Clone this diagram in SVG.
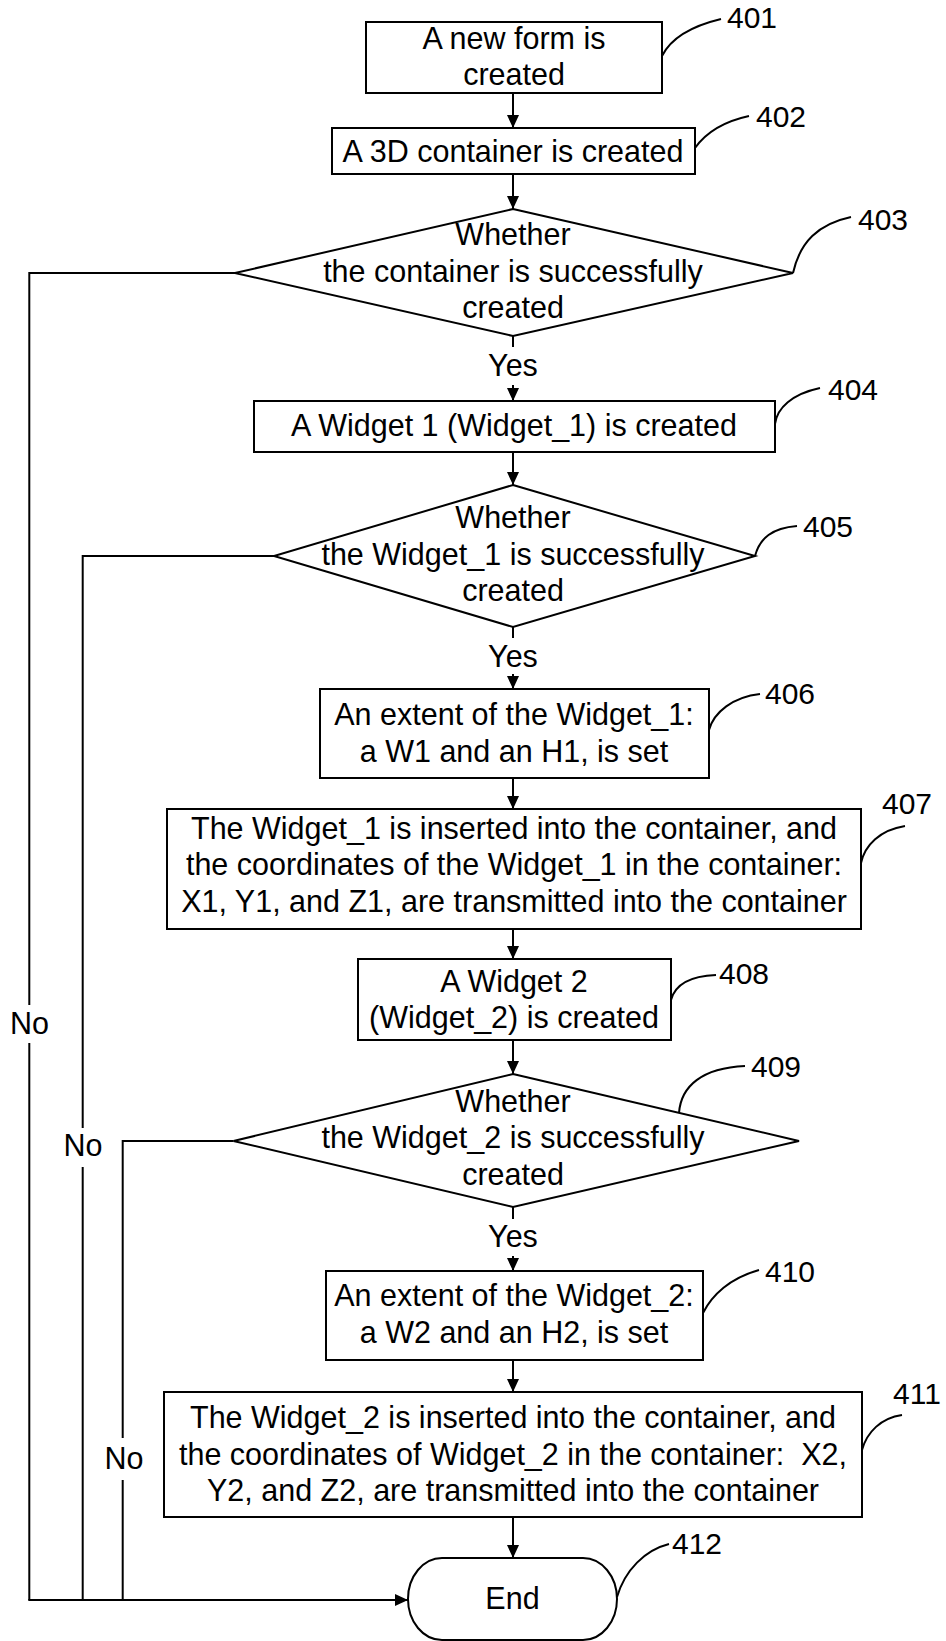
<svg xmlns="http://www.w3.org/2000/svg" width="946" height="1641" viewBox="0 0 946 1641">
<style>
.shape{fill:#fff;stroke:#000;stroke-width:2}
.t{font-family:"Liberation Sans",Arial,sans-serif;font-size:30.5px;text-anchor:middle;fill:#000}
.ref{font-family:"Liberation Sans",Arial,sans-serif;font-size:30px;fill:#000}
.lead{fill:none;stroke:#000;stroke-width:2}
.conn{fill:none;stroke:#000;stroke-width:2}
</style>
<defs>
<marker id="ah" viewBox="0 0 13 12" refX="13" refY="6" markerWidth="13" markerHeight="12" markerUnits="userSpaceOnUse" orient="auto">
<path d="M0,0 L13,6 L0,12 z" fill="#000"/>
</marker>
</defs>
<rect width="946" height="1641" fill="#fff"/>
<g id="connectors">
<line class="conn" x1="513" y1="93" x2="513" y2="128" marker-end="url(#ah)"/>
<line class="conn" x1="513" y1="174" x2="513" y2="209" marker-end="url(#ah)"/>
<line class="conn" x1="513" y1="336" x2="513" y2="347"/>
<line class="conn" x1="513" y1="385" x2="513" y2="401" marker-end="url(#ah)"/>
<text class="t" x="513" y="376">Yes</text>
<line class="conn" x1="513" y1="452" x2="513" y2="485" marker-end="url(#ah)"/>
<line class="conn" x1="513" y1="627" x2="513" y2="638"/>
<line class="conn" x1="513" y1="674" x2="513" y2="689" marker-end="url(#ah)"/>
<text class="t" x="513" y="666.5">Yes</text>
<line class="conn" x1="513" y1="778" x2="513" y2="809" marker-end="url(#ah)"/>
<line class="conn" x1="513" y1="929" x2="513" y2="959" marker-end="url(#ah)"/>
<line class="conn" x1="513" y1="1040" x2="513" y2="1074" marker-end="url(#ah)"/>
<line class="conn" x1="513" y1="1207" x2="513" y2="1219"/>
<line class="conn" x1="513" y1="1256" x2="513" y2="1271" marker-end="url(#ah)"/>
<text class="t" x="513" y="1246.5">Yes</text>
<line class="conn" x1="513" y1="1360" x2="513" y2="1392" marker-end="url(#ah)"/>
<line class="conn" x1="513" y1="1517" x2="513" y2="1558" marker-end="url(#ah)"/>
<path class="conn" d="M235,273 H29.3 V1005 M29.3,1043 V1600"/>
<path class="conn" d="M274,556 H82.7 V1128 M82.7,1167 V1600"/>
<path class="conn" d="M233.5,1141 H122.7 V1438 M122.7,1480 V1600"/>
<path class="conn" d="M28.3,1600 H408" marker-end="url(#ah)"/>
<text class="t" x="29.5" y="1033.5">No</text>
<text class="t" x="83" y="1156">No</text>
<text class="t" x="124" y="1469">No</text>
</g>
<g id="n401">
<rect class="shape" x="366" y="22" width="296" height="71"/>
<text class="t" x="514" y="49">A new form is</text>
<text class="t" x="514" y="85">created</text>
<path class="lead" d="M662,56 Q675,30 721,19"/>
<text class="ref" x="727" y="27.7">401</text>
</g>
<g id="n402">
<rect class="shape" x="332" y="128" width="363" height="46"/>
<text class="t" x="513" y="161.5">A 3D container is created</text>
<path class="lead" d="M695,148 Q712,124 749,116"/>
<text class="ref" x="756" y="126.5">402</text>
</g>
<g id="n403">
<polygon class="shape" points="513,209 793,273 513,336 235,273"/>
<text class="t" x="513" y="245">Whether</text>
<text class="t" x="513" y="281.5">the container is successfully</text>
<text class="t" x="513" y="318">created</text>
<path class="lead" d="M793,273 C800,242 818,224 851,217"/>
<text class="ref" x="858" y="229.5">403</text>
</g>
<g id="n404">
<rect class="shape" x="254" y="401" width="521" height="51"/>
<text class="t" x="514" y="436">A Widget 1 (Widget_1) is created</text>
<path class="lead" d="M775,424 C777,408 792,394 820,388"/>
<text class="ref" x="828" y="400">404</text>
</g>
<g id="n405">
<polygon class="shape" points="513,485 755,556 513,627 274,556"/>
<text class="t" x="513" y="528">Whether</text>
<text class="t" x="513" y="564.5">the Widget_1 is successfully</text>
<text class="t" x="513" y="601">created</text>
<path class="lead" d="M755,556 C760,538 772,528 797,526"/>
<text class="ref" x="803" y="536.5">405</text>
</g>
<g id="n406">
<rect class="shape" x="320" y="689" width="389" height="89"/>
<text class="t" x="514" y="725">An extent of the Widget_1:</text>
<text class="t" x="514" y="761.5">a W1 and an H1, is set</text>
<path class="lead" d="M709,730 C714,712 733,697 760,694"/>
<text class="ref" x="765" y="703.5">406</text>
</g>
<g id="n407">
<rect class="shape" x="167" y="809" width="694" height="120"/>
<text class="t" x="514" y="838.5">The Widget_1 is inserted into the container, and</text>
<text class="t" x="514" y="875">the coordinates of the Widget_1 in the container:</text>
<text class="t" x="514" y="911.5">X1, Y1, and Z1, are transmitted into the container</text>
<path class="lead" d="M861,863 C865,845 880,830 905,826"/>
<text class="ref" x="882" y="813.5">407</text>
</g>
<g id="n408">
<rect class="shape" x="358" y="959" width="313" height="81"/>
<text class="t" x="514" y="992">A Widget 2</text>
<text class="t" x="514" y="1028">(Widget_2) is created</text>
<path class="lead" d="M671,1000 C675,985 690,976 716,975"/>
<text class="ref" x="719" y="983.5">408</text>
</g>
<g id="n409">
<polygon class="shape" points="513,1074 799,1141 513,1207 233.5,1141"/>
<text class="t" x="513" y="1111.5">Whether</text>
<text class="t" x="513" y="1148">the Widget_2 is successfully</text>
<text class="t" x="513" y="1184.5">created</text>
<path class="lead" d="M679,1113 C681,1086 702,1068 745,1066"/>
<text class="ref" x="751" y="1076.5">409</text>
</g>
<g id="n410">
<rect class="shape" x="326" y="1271" width="377" height="89"/>
<text class="t" x="514" y="1306">An extent of the Widget_2:</text>
<text class="t" x="514" y="1342.5">a W2 and an H2, is set</text>
<path class="lead" d="M703,1313 C712,1295 730,1278 759,1270"/>
<text class="ref" x="765" y="1281.5">410</text>
</g>
<g id="n411">
<rect class="shape" x="164" y="1392" width="698" height="125"/>
<text class="t" x="513" y="1428">The Widget_2 is inserted into the container, and</text>
<text class="t" x="513" y="1464.5" xml:space="preserve">the coordinates of Widget_2 in the container:  X2,</text>
<text class="t" x="513" y="1501">Y2, and Z2, are transmitted into the container</text>
<path class="lead" d="M862,1450 C867,1432 881,1418 902,1415"/>
<text class="ref" x="893" y="1403.5">411</text>
</g>
<g id="n412">
<rect class="shape" x="408" y="1558" width="209" height="82" rx="34" ry="41"/>
<text class="t" x="512.5" y="1609">End</text>
<path class="lead" d="M617,1597 C625,1570 645,1550 669,1544"/>
<text class="ref" x="672" y="1553.5">412</text>
</g>
</svg>
